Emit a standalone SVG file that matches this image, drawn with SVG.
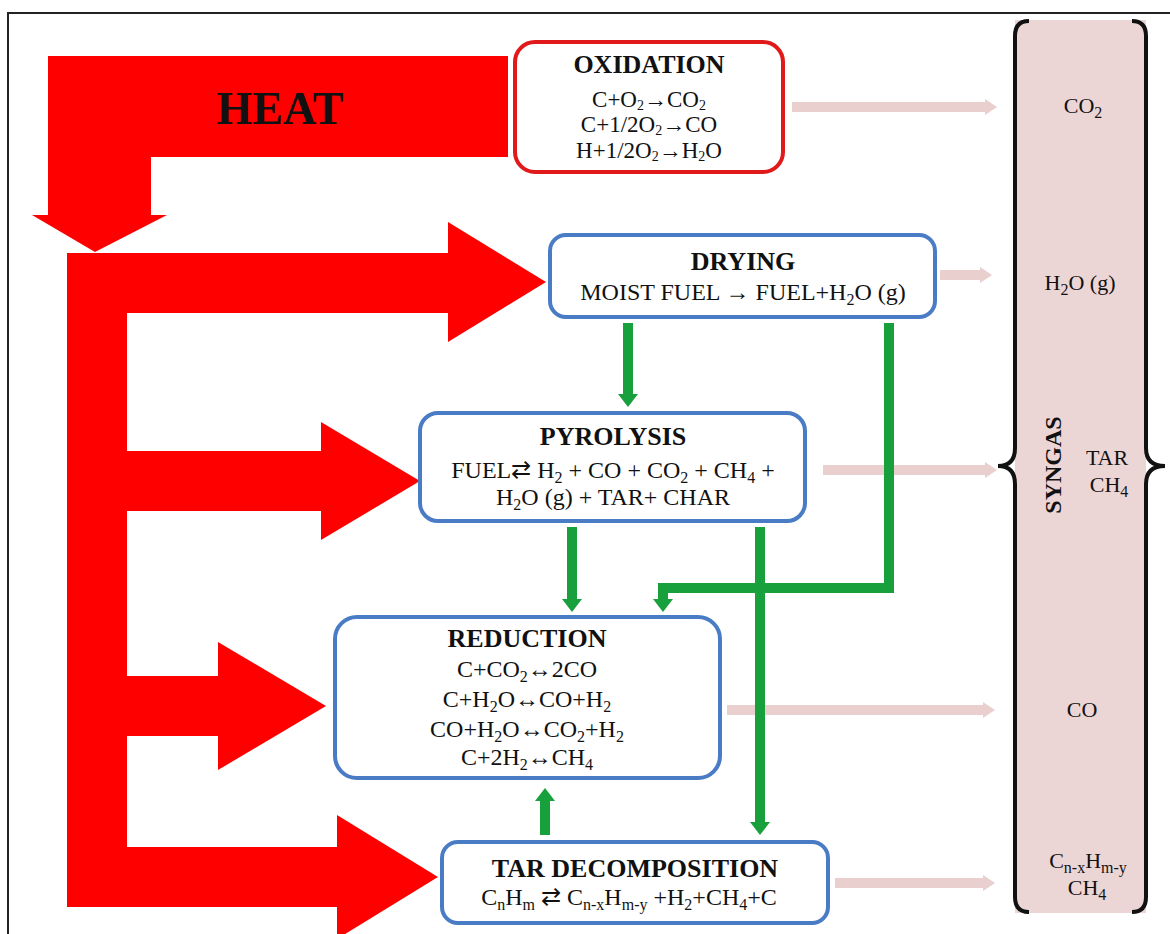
<svg xmlns="http://www.w3.org/2000/svg" width="1170" height="934" viewBox="0 0 1170 934">
<style>
.t{font-family:"Liberation Serif","Times New Roman",serif;fill:#111;text-anchor:middle}
.h{font-weight:bold;font-size:26px}
.e{font-size:24px}
.o{font-size:23px}
.p{font-size:22px}
.s{font-size:16px;baseline-shift:-5px}
.so{font-size:14px;baseline-shift:-3px}
.box{fill:#fff;stroke:#4a7cc6;stroke-width:4}
.red{fill:#ff0000}
.pink{fill:#e9cfce}
.g{fill:none;stroke:#17a03c;stroke-width:10;stroke-linejoin:miter;marker-end:url(#gh)}
</style>
<defs>
<marker id="gh" markerUnits="userSpaceOnUse" viewBox="0 0 13 20" markerWidth="13" markerHeight="20" refX="0" refY="10" orient="auto">
<path d="M0,0 L13,10 L0,20 Z" fill="#17a03c"/>
</marker>
</defs>
<rect x="0" y="0" width="1170" height="934" fill="#fff"/>
<rect x="8" y="13" width="1200" height="1000" fill="none" stroke="#222" stroke-width="2"/>

<g id="syngas-panel">
<rect x="1015" y="20" width="131" height="893" fill="#ecd6d5"/>
<path d="M1029,21 Q1015,21 1015,36 V448 Q1015,466 998,466 Q1015,466 1015,484 V897 Q1015,912 1029,912" fill="none" stroke="#111" stroke-width="4"/>
<path d="M1132,21 Q1146,21 1146,36 V448 Q1146,466 1165,466 Q1146,466 1146,484 V897 Q1146,912 1132,912" fill="none" stroke="#111" stroke-width="4"/>
<text class="t p" x="1083" y="113">CO<tspan class="s">2</tspan></text>
<text class="t p" x="1080" y="290">H<tspan class="s">2</tspan>O (g)</text>
<text class="t" font-weight="bold" font-size="24" transform="translate(1061,465) rotate(-90)">SYNGAS</text>
<text class="t p" x="1107" y="465">TAR</text>
<text class="t p" x="1109" y="492">CH<tspan class="s">4</tspan></text>
<text class="t p" x="1082" y="717">CO</text>
<text class="t p" x="1088" y="868">C<tspan class="s">n-x</tspan>H<tspan class="s">m-y</tspan></text>
<text class="t p" x="1087" y="895">CH<tspan class="s">4</tspan></text>
</g>

<g id="heat">
<polygon class="red" points="48,56 508,56 508,157 151,157 151,215 167,215 95,252 32,215 48,215"/>
<text class="t" font-weight="bold" font-size="46" x="280" y="124">HEAT</text>
</g>

<g id="heat-distribution">
<polygon class="red" points="67,253 448,253 448,222 546,282 448,342 448,313 127,313 127,451 321,451 321,422 420,481 321,540 321,511 127,511 127,676 218,676 218,642 326,706 218,770 218,736 127,736 127,847 337,847 337,815 438,877 337,939 337,907 67,907"/>
</g>

<g id="connectors">
<polygon class="pink" points="792,102 985,102 985,99 997,107 985,115 985,112 792,112"/>
<polygon class="pink" points="940,270 980,270 980,267 992,275 980,283 980,280 940,280"/>
<polygon class="pink" points="823,465 985,465 985,462 997,470 985,478 985,475 823,475"/>
<polygon class="pink" points="727,705 983,705 983,702 995,710 983,718 983,715 727,715"/>
<polygon class="pink" points="835,878 983,878 983,875 995,883 983,891 983,888 835,888"/>
<path class="g" d="M628,323 V394"/>
<path class="g" d="M889,323 V588 H663 V599"/>
<path class="g" d="M572,527 V599"/>
<path class="g" d="M760,527 V822"/>
<path class="g" d="M545,835 V801"/>
</g>

<g id="oxidation">
<rect x="515" y="42" width="268" height="130" rx="20" fill="#fff" stroke="#e01a1a" stroke-width="4"/>
<text class="t h" x="649" y="73">OXIDATION</text>
<text class="t o" x="649" y="107">C+O<tspan class="so">2</tspan>→CO<tspan class="so">2</tspan></text>
<text class="t o" x="649" y="132">C+1/2O<tspan class="so">2</tspan>→CO</text>
<text class="t o" x="649" y="158">H+1/2O<tspan class="so">2</tspan>→H<tspan class="so">2</tspan>O</text>
</g>

<g id="drying">
<rect class="box" x="550" y="235" width="385" height="82" rx="16"/>
<text class="t h" x="743" y="270">DRYING</text>
<text class="t e" x="743" y="300">MOIST FUEL → FUEL+H<tspan class="s">2</tspan>O (g)</text>
</g>

<g id="pyrolysis">
<rect class="box" x="420" y="413" width="385" height="108" rx="18"/>
<text class="t h" x="613" y="445">PYROLYSIS</text>
<text class="t e" x="613" y="478">FUEL⇄ H<tspan class="s">2</tspan> + CO + CO<tspan class="s">2</tspan> + CH<tspan class="s">4</tspan> +</text>
<text class="t e" x="613" y="505">H<tspan class="s">2</tspan>O (g) + TAR+ CHAR</text>
</g>

<g id="reduction">
<rect class="box" x="335" y="617" width="385" height="161" rx="22"/>
<text class="t h" x="527" y="647">REDUCTION</text>
<text class="t e" x="527" y="677">C+CO<tspan class="s">2</tspan>↔2CO</text>
<text class="t e" x="527" y="707">C+H<tspan class="s">2</tspan>O↔CO+H<tspan class="s">2</tspan></text>
<text class="t e" x="527" y="737">CO+H<tspan class="s">2</tspan>O↔CO<tspan class="s">2</tspan>+H<tspan class="s">2</tspan></text>
<text class="t e" x="527" y="765">C+2H<tspan class="s">2</tspan>↔CH<tspan class="s">4</tspan></text>
</g>

<g id="tar-decomposition">
<rect class="box" x="442" y="842" width="386" height="81" rx="16"/>
<text class="t h" x="635" y="877">TAR DECOMPOSITION</text>
<text class="t e" x="629" y="905">C<tspan class="s">n</tspan>H<tspan class="s">m</tspan> ⇄ C<tspan class="s">n-x</tspan>H<tspan class="s">m-y</tspan> +H<tspan class="s">2</tspan>+CH<tspan class="s">4</tspan>+C</text>
</g>
</svg>
